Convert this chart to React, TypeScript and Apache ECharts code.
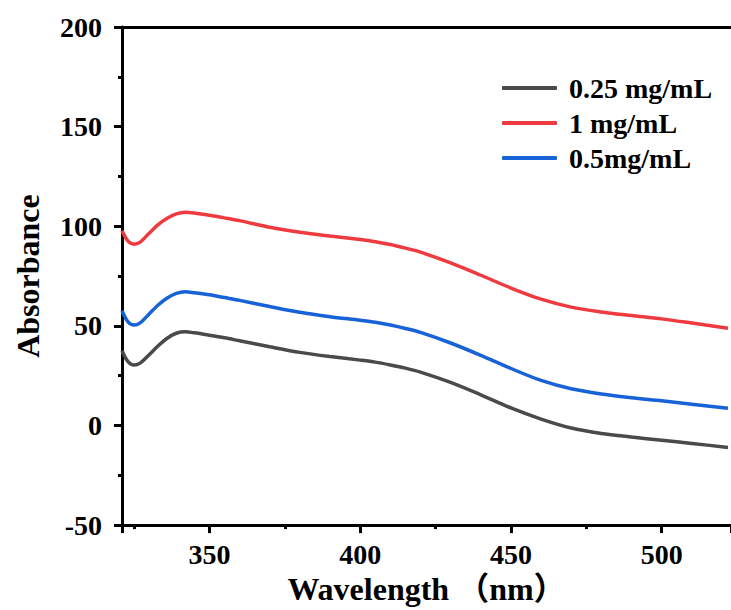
import React, { useEffect, useRef } from "react";
import * as echarts from "echarts";

const wavelengths = [321, 323, 325, 327, 330, 333, 336, 339, 342, 345, 350, 355, 360, 370, 380, 390, 400, 405, 410, 415, 420, 430, 440, 450, 460, 470, 480, 490, 500, 510, 522];
const gray025 = [37.5, 32, 30.3, 31.3, 35.5, 40, 43.8, 46.3, 47, 46.5, 45.3, 44, 42.5, 39.5, 36.7, 34.6, 32.8, 31.8, 30.4, 28.8, 26.8, 21.6, 15.4, 8.8, 3.2, -1.3, -4, -5.8, -7.4, -9, -11];
const red1 = [97.7, 92.5, 91, 92, 96.5, 100.8, 104, 106.2, 107, 106.6, 105.5, 104.2, 102.8, 99.5, 97, 95.1, 93.3, 92.2, 90.8, 89, 87, 81.6, 75.4, 69, 63.4, 59.4, 57, 55.2, 53.5, 51.4, 48.8];
const blue05 = [57.6, 52, 50.4, 51.5, 56, 60.5, 64, 66.3, 67.1, 66.6, 65.6, 64.2, 62.8, 59.7, 56.8, 54.6, 52.8, 51.8, 50.4, 48.7, 46.7, 41.4, 35.2, 28.6, 22.6, 18.4, 15.8, 13.9, 12.4, 10.7, 8.7];
const seriesNames = ["0.25 mg/mL", "1 mg/mL", "0.5mg/mL"];
const seriesColors = ["#4a4a4a", "#ef3a40", "#1862d8"];

const FONT = "'Liberation Serif', 'Times New Roman', 'Noto Sans CJK SC', serif";

export default function App() {
  const ref = useRef<HTMLDivElement>(null);
  useEffect(() => {
    if (!ref.current) return;
    const chart = echarts.init(ref.current, null, { renderer: "svg" });
    const mk = (vals: number[]) => wavelengths.map((w, i) => [w, vals[i]]);
    const datasets = [gray025, red1, blue05];
    chart.setOption({
      animation: false,
      backgroundColor: "#ffffff",
      grid: { left: 122, right: 0, top: 27, bottom: 84, containLabel: false },
      legend: {
        orient: "vertical",
        left: 502,
        top: 74,
        padding: 0,
        itemWidth: 55,
        itemHeight: 4,
        itemGap: 7,
        icon: "roundRect",
        data: seriesNames,
        textStyle: {
          fontFamily: FONT,
          fontWeight: "bold",
          fontSize: 28,
          lineHeight: 28,
          color: "#000",
          padding: [0, 0, 0, 7],
        },
      },
      xAxis: [
        {
          type: "value",
          min: 321,
          max: 523,
          splitNumber: 4,
          name: "Wavelength （nm）",
          nameLocation: "middle",
          nameGap: 43,
          nameTextStyle: { fontFamily: FONT, fontWeight: "bold", fontSize: 32, color: "#000" },
          axisLine: { show: true, onZero: false, lineStyle: { color: "#000", width: 3 } },
          axisTick: { show: true, inside: false, length: 8, lineStyle: { color: "#000", width: 3 } },
          minorTick: { show: true, splitNumber: 2, length: 4, lineStyle: { color: "#000", width: 3 } },
          axisLabel: {
            showMinLabel: false,
            showMaxLabel: false,
            margin: 15,
            fontFamily: FONT,
            fontWeight: "bold",
            fontSize: 28,
            color: "#000",
          },
          splitLine: { show: false },
        },
        {
          type: "value",
          position: "top",
          min: 321,
          max: 523,
          axisLine: { show: true, onZero: false, lineStyle: { color: "#000", width: 3 } },
          axisTick: { show: false },
          axisLabel: { show: false },
          splitLine: { show: false },
        },
      ],
      yAxis: {
        type: "value",
        min: -50,
        max: 200,
        interval: 50,
        name: "Absorbance",
        nameLocation: "middle",
        nameGap: 78,
        nameTextStyle: { fontFamily: FONT, fontWeight: "bold", fontSize: 32, color: "#000" },
        axisLine: { show: true, onZero: false, lineStyle: { color: "#000", width: 3 } },
        axisTick: { show: true, inside: false, length: 8, lineStyle: { color: "#000", width: 3 } },
        minorTick: { show: true, splitNumber: 2, length: 4, lineStyle: { color: "#000", width: 3 } },
        axisLabel: { margin: 20, fontFamily: FONT, fontWeight: "bold", fontSize: 28, color: "#000" },
        splitLine: { show: false },
      },
      series: datasets.map((vals, i) => ({
        name: seriesNames[i],
        type: "line",
        data: mk(vals),
        smooth: 0.3,
        showSymbol: false,
        symbol: "none",
        xAxisIndex: 0,
        lineStyle: { color: seriesColors[i], width: 3.5 },
        itemStyle: { color: seriesColors[i] },
      })),
    });
    return () => chart.dispose();
  }, []);
  return (
    <div
      ref={ref}
      style={{ position: "fixed", left: 0, top: 0, width: 731, height: 610, background: "#fff" }}
    />
  );
}
